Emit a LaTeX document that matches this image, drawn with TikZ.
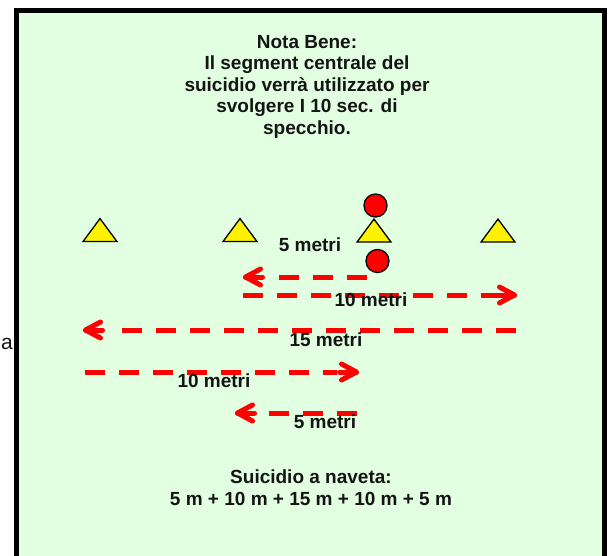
\documentclass[tikz,border=0pt]{standalone}
\usepackage{fontspec}
\setmainfont{Liberation Sans}
\usetikzlibrary{shapes.geometric}
\definecolor{fieldgreen}{RGB}{226,255,226}
\definecolor{txt}{RGB}{20,20,20}
\begin{document}
\begin{tikzpicture}[x=1pt,y=-1pt,
  lbl/.style={font=\fontsize{19}{21.5}\selectfont\bfseries, text=txt, inner sep=0pt},
  cone/.style={isosceles triangle, shape border rotate=90, isosceles triangle stretches,
    minimum width=34pt, minimum height=23pt, inner sep=0pt, fill=yellow, draw=black, line width=1.3pt},
  ball/.style={circle, fill=red, draw=black, line width=1.3pt, minimum size=23pt, inner sep=0pt},
  run/.style={draw=red, line width=5pt, dash pattern=on 20pt off 14pt},
  barb/.style={draw=red, line width=5pt, line cap=round, line join=round}
]
\useasboundingbox (0,0) rectangle (611,555);
\clip (0,0) rectangle (611,555);
% field
\draw[line width=5pt, fill=fieldgreen] (16.5,10) rectangle (604.5,580);
% cut-off letter at the left
\node[font=\fontsize{21}{24}\selectfont, text=txt, inner sep=0pt] (cut) at (7,344) {a};
% note
\node[lbl, align=center, anchor=north] (note) at (307,35)
  {Nota Bene:\\Il segment centrale del\\suicidio verrà utilizzato per\\svolgere I 10 sec. di\\specchio.};
% cones
\node[cone] (c1) at (100,233) {};
\node[cone] (c2) at (240,233) {};
\node[cone] (c3) at (374,233.5) {};
\node[cone] (c4) at (498,233.5) {};
% players
\node[ball] (p1) at (375.5,205.5) {};
\node[ball] (p2) at (377.5,261) {};
% runs: start, shaft end, tip (apex of the chevron)
\coordinate (r1s) at (367,277);  \coordinate (r1b) at (279,277);  \coordinate (r1e) at (245.5,277);
\coordinate (r2s) at (243,295);  \coordinate (r2b) at (497,295);  \coordinate (r2e) at (514.5,295);
\coordinate (r3s) at (516,330);  \coordinate (r3b) at (122,330);  \coordinate (r3e) at (85.5,330);
\coordinate (r4s) at (85,372);   \coordinate (r4b) at (337,372);  \coordinate (r4e) at (356.5,372);
\coordinate (r5s) at (357,413);  \coordinate (r5b) at (269,413);  \coordinate (r5e) at (237.5,413);
\draw[run] (r1s) -- (r1b);
\draw[run] (r2s) -- (r2b);
\draw[run] (r3s) -- (r3b);
\draw[run] (r4s) -- (r4b);
\draw[run] (r5s) -- (r5b);
% arrow heads pointing left
\foreach \t in {r1e,r3e,r5e}{
  \draw[barb] ([xshift=15pt,yshift=8pt]\t) -- (\t) -- ([xshift=15pt,yshift=-8pt]\t);
  \draw[barb] (\t) -- ([xshift=17pt]\t);}
% arrow heads pointing right
\foreach \t in {r2e,r4e}{
  \draw[barb] ([xshift=-15pt,yshift=8pt]\t) -- (\t) -- ([xshift=-15pt,yshift=-8pt]\t);
  \draw[barb] (\t) -- ([xshift=-17pt]\t);}
% labels
\node[lbl] (l1) at (310,245) {5 metri};
\node[lbl] (l2) at (371,300) {10 metri};
\node[lbl] (l3) at (326,340) {15 metri};
\node[lbl] (l4) at (214,381) {10 metri};
\node[lbl] (l5) at (325,422) {5 metri};
% summary
\node[lbl, align=center, anchor=north, font=\fontsize{19}{22}\selectfont\bfseries] (sum) at (311,469.5)
  {Suicidio a naveta:\\5 m + 10 m + 15 m + 10 m + 5 m};
\end{tikzpicture}
\end{document}
